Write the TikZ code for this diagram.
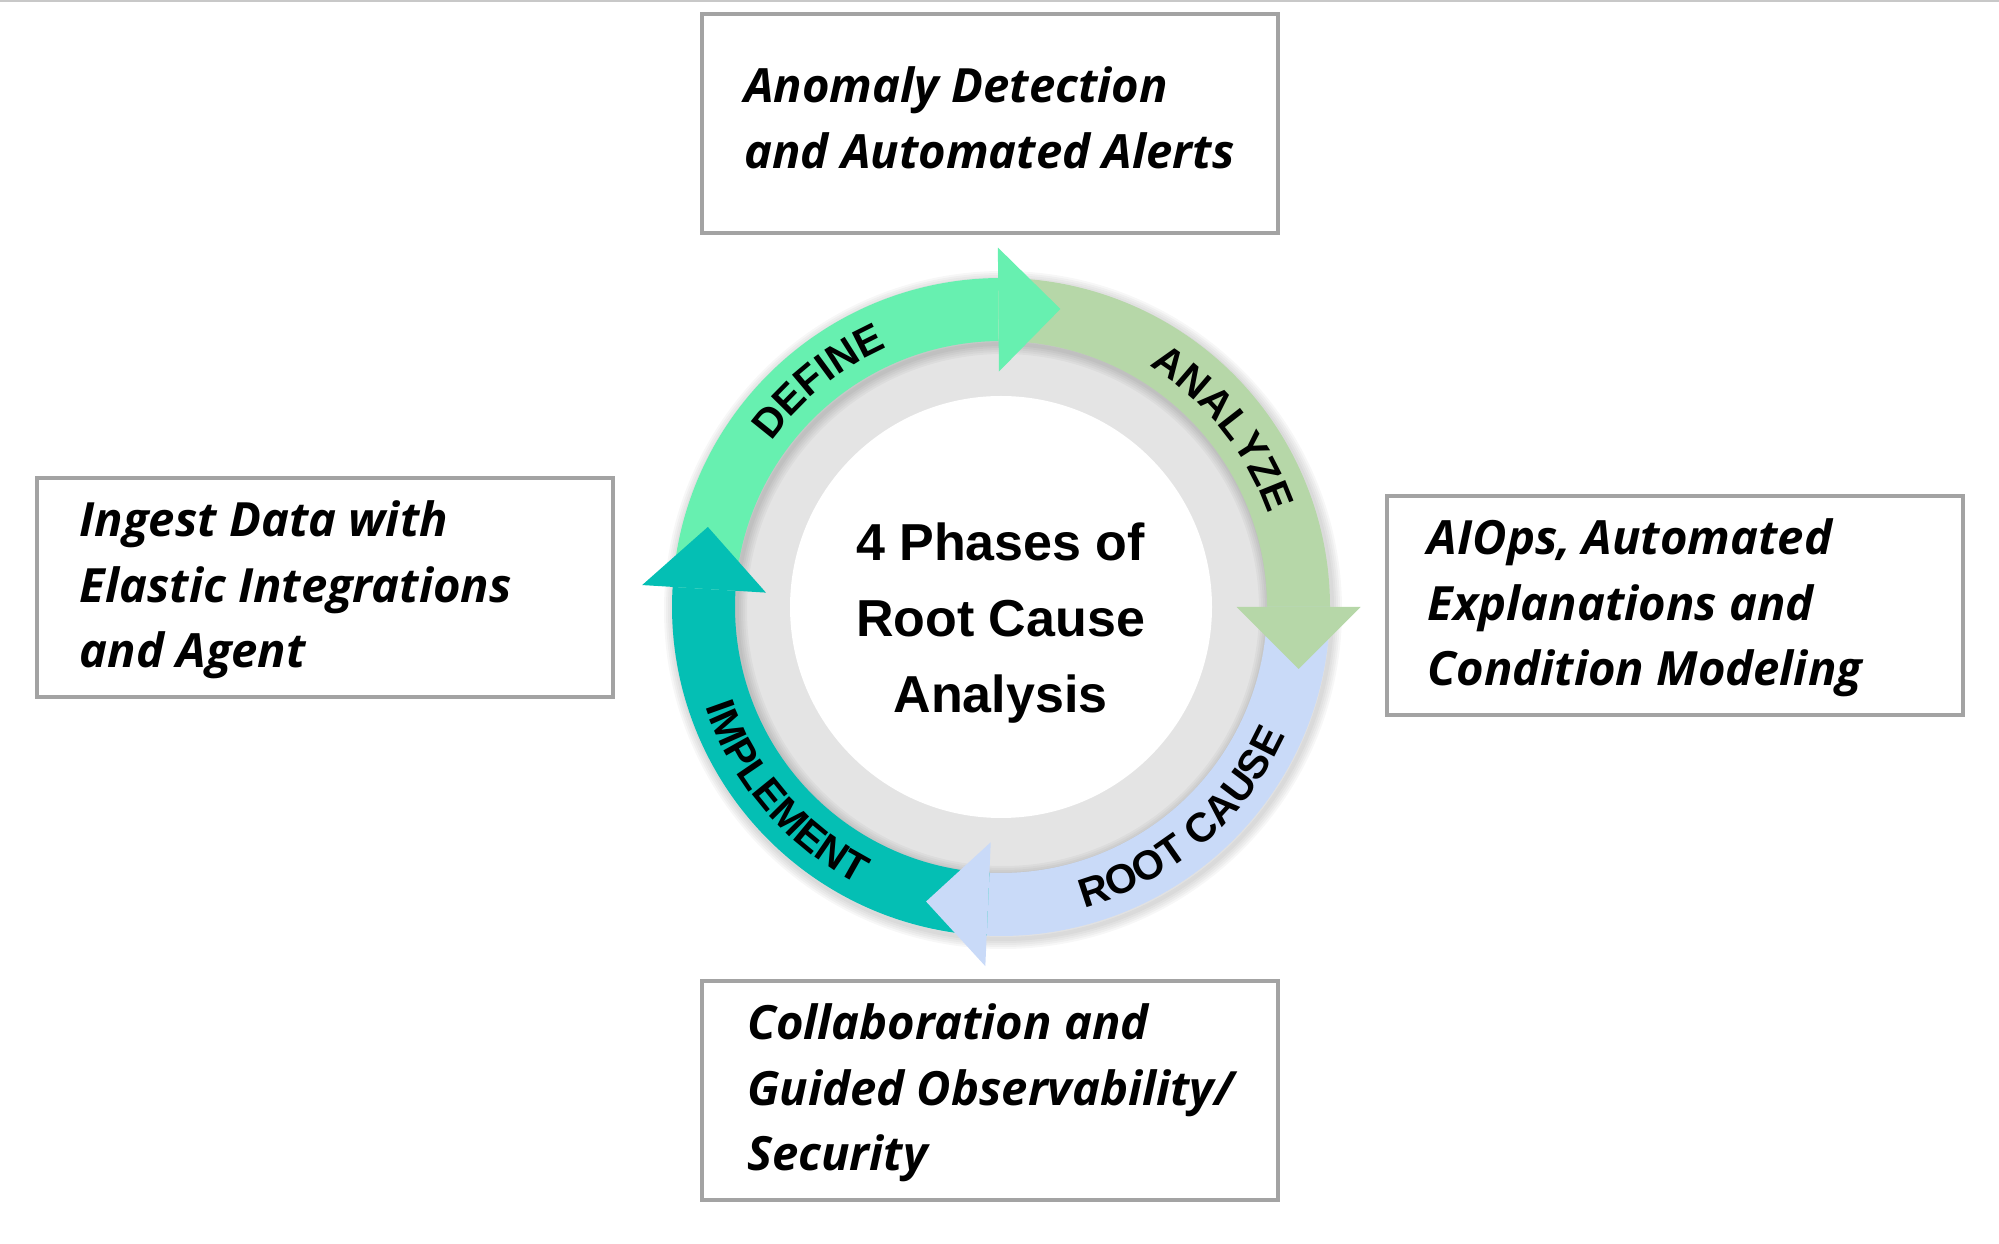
\documentclass[tikz,border=0pt]{standalone}
\usepackage{fontspec}
\setmainfont{Open Sans}
\newfontfamily\boxfont{Open Sans}
\newfontfamily\headfont{Liberation Sans}
\usetikzlibrary{decorations.text,calc}
\definecolor{cdefine}{HTML}{67F0B0}
\definecolor{canalyze}{HTML}{B6D7A8}
\definecolor{croot}{HTML}{C9DAF8}
\definecolor{cimpl}{HTML}{04BFB4}
\definecolor{cring}{HTML}{E4E4E4}
\definecolor{cborder}{HTML}{A3A3A3}
\definecolor{ctopline}{HTML}{C8C8C8}
\newcommand\lblfont{\headfont\bfseries\fontsize{41}{41}\selectfont}
\newcommand\ringband[3]{\fill[#1] ($(C)+(#2:329)$) arc[start angle=#2,end angle=#3,radius=329] -- ($(C)+(#3:266)$) arc[start angle=#3,end angle=#2,radius=266] -- cycle;}
\newcommand\ringhead[2]{\fill[#1, shift={(C)}, rotate=#2] (235.5,0) -- (359.5,0) -- (297.5,-62) -- cycle;}
\begin{document}
\begin{tikzpicture}[x=1pt,y=1pt,
  boxframe/.style={draw=cborder, line width=4pt, minimum width=576pt, minimum height=219pt, inner sep=0pt, fill=white},
  boxtext/.style={anchor=base west, align=left, inner sep=0pt, font=\boxfont\bfseries\itshape\fontsize{47.2}{65.5}\selectfont},
  shadowline/.style={black, opacity=0.03},
]
\useasboundingbox (0,0) rectangle (1999,1243);
\draw[ctopline, line width=2pt] (0,1242) -- (1999,1242);

% boxes
\node[boxframe] (btop) at (990,1119.25) {};
\node[boxframe] (bleft) at (324.5,655.5) {};
\node[boxframe] (bright) at (1674.5,637) {};
\node[boxframe] (bbottom) at (990,153) {};

% texts (anchor = baseline of last line)
\node[boxtext] (ttop) at ($(btop.north west)+(44,-156)$) {Anomaly Detection\\and Automated Alerts};
\node[boxtext] (tleft) at ($(bleft.north west)+(45,-192)$) {Ingest Data with\\Elastic Integrations\\and Agent};
\node[boxtext] (tright) at ($(bright.north west)+(43,-191.5)$) {AIOps, Automated\\Explanations and\\Condition Modeling};
\node[boxtext] (tbottom) at ($(bbottom.north west)+(47,-192)$) {Collaboration and\\Guided Observability/\\Security};

% ring
\coordinate (C) at (1001,636);
\fill[cring] (C) circle[radius=268];
\fill[white] (C) circle[radius=211];
\foreach \w in {4,8,12,16,20}{
  \draw[shadowline, line width=\w pt] ($(C)+(2,-3)$) circle[radius=266];
  \draw[shadowline, line width=\w pt] ($(C)+(2,-3)$) circle[radius=329];
}

% bands
\ringband{cdefine}{176.5}{90.5}
\ringband{canalyze}{90.5}{0}
\ringband{croot}{0}{-92.5}
\ringband{cimpl}{267.5}{176.5}

% heads
\ringhead{cdefine}{90.5}
\ringhead{canalyze}{0}
\ringhead{croot}{-92.5}
\ringhead{cimpl}{176.5}

% labels
\path[decorate, decoration={text along path, text align=center, text={|\lblfont|DEFINE}}] ($(C)+(169:283)$) arc[start angle=169, end angle=89, radius=283];
\path[decorate, decoration={text along path, text align=center, text={|\lblfont|ANALYZE}}] ($(C)+(78.8:283)$) arc[start angle=78.8, end angle=-1.2, radius=283];
\path[decorate, decoration={text along path, text align=center, text={|\lblfont|ROOT CAUSE}}] ($(C)+(-89.4:312)$) arc[start angle=-89.4, end angle=-9.4, radius=312];
\path[decorate, decoration={text along path, text align=center, text={|\lblfont|IMPLEMENT}}] ($(C)+(180.7:312)$) arc[start angle=180.7, end angle=260.7, radius=312];

% center title (anchor = baseline of last line)
\node[anchor=base, align=center, inner sep=0pt, font=\headfont\bfseries\fontsize{52}{76}\selectfont] (title) at (1000.5,530.7) {4 Phases of\\Root Cause\\Analysis};
\end{tikzpicture}
\end{document}
